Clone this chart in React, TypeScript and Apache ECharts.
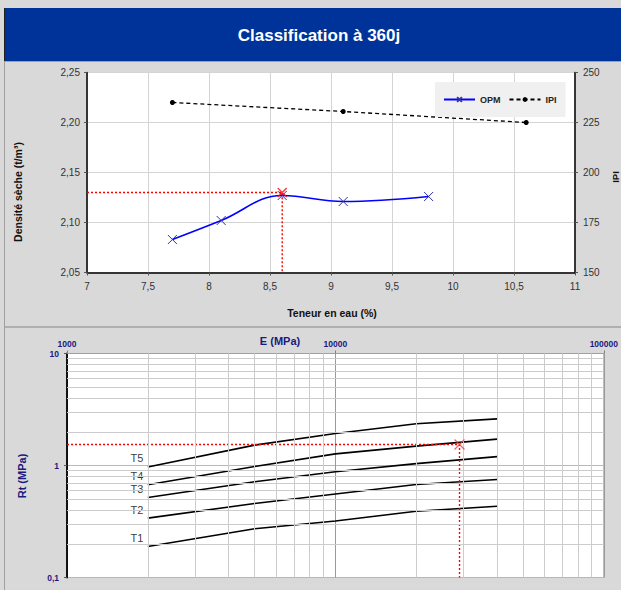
import React, { useEffect, useRef } from "react";
import * as echarts from "echarts";

const TITLE = "Classification à 360j";

// ---- Top chart data ----
const waterTicksMin = 7;
const waterTicksMax = 11;
const opmWater = [7.7, 8.1, 8.6, 9.1, 9.8];
const opmDensity = [2.083, 2.102, 2.127, 2.121, 2.126];
const ipiWater = [7.7, 9.1, 10.6];
const ipiValues = [235, 230.5, 225];
const refWater = 8.6;
const refDensity = 2.13;

// ---- Bottom chart data ----
const modulusE = [2000, 5000, 10000, 20000, 40000];
const classNames = ["T1", "T2", "T3", "T4", "T5"];
const t1 = [0.189, 0.272, 0.32, 0.39, 0.433];
const t2 = [0.339, 0.458, 0.556, 0.676, 0.75];
const t3 = [0.518, 0.715, 0.88, 1.04, 1.2];
const t4 = [0.673, 0.98, 1.27, 1.49, 1.72];
const t5 = [0.97, 1.52, 1.93, 2.36, 2.61];
const classValues = [t1, t2, t3, t4, t5];
const refE = 29000;
const refRt = 1.54;
const minorE = [2000, 3000, 4000, 5000, 6000, 7000, 8000, 9000, 20000, 30000, 40000, 50000, 60000, 70000, 80000, 90000];
const minorRt = [0.2, 0.3, 0.4, 0.5, 0.6, 0.7, 0.8, 0.9, 2, 3, 4, 5, 6, 7, 8, 9];

const FONT = "Liberation Sans, Arial, sans-serif";
const NAVY = "#1a1a80";
const XSYM = "path://M0,0L10,10M10,0L0,10";

const comma = (v: number, d?: number) =>
  (d === undefined ? String(v) : v.toFixed(d)).replace(".", ",");

function buildOption(): any {
  const series: any[] = [];

  // Top chart
  series.push({
    name: "OPM",
    type: "line",
    xAxisIndex: 0,
    yAxisIndex: 0,
    smooth: 0.4,
    data: opmWater.map((w, i) => [w, opmDensity[i]]),
    symbol: XSYM,
    symbolSize: 9,
    lineStyle: { color: "#0000ff", width: 1.6 },
    itemStyle: { color: "#3333a0", borderColor: "#3333a0", borderWidth: 1 },
    z: 3,
  });
  series.push({
    name: "IPI",
    type: "line",
    xAxisIndex: 0,
    yAxisIndex: 1,
    data: ipiWater.map((w, i) => [w, ipiValues[i]]),
    symbol: "circle",
    symbolSize: 5,
    lineStyle: { color: "#000", width: 1.3, type: [4, 3] },
    itemStyle: { color: "#000" },
    z: 3,
  });
  series.push({
    name: "refTop",
    type: "line",
    xAxisIndex: 0,
    yAxisIndex: 0,
    data: [
      [waterTicksMin, refDensity],
      [refWater, refDensity],
      [refWater, 2.05],
    ],
    symbol: "none",
    lineStyle: { color: "#ff0000", width: 1.4, type: [2, 2] },
    z: 2,
  });
  series.push({
    name: "refTopMark",
    type: "scatter",
    xAxisIndex: 0,
    yAxisIndex: 0,
    data: [[refWater, refDensity]],
    symbol: XSYM,
    symbolSize: 9,
    itemStyle: { color: "#ff0000", borderColor: "#ff0000", borderWidth: 1.3 },
    z: 4,
  });

  // Bottom chart minor grid
  series.push({
    name: "minorGrid",
    type: "line",
    xAxisIndex: 1,
    yAxisIndex: 2,
    data: [[1000, 0.1]],
    symbol: "none",
    lineStyle: { width: 0 },
    z: 1,
    markLine: {
      silent: true,
      symbol: ["none", "none"],
      label: { show: false },
      lineStyle: { color: "#cccccc", type: "solid", width: 1 },
      data: [
        ...minorE.map((v) => ({ xAxis: v })),
        ...minorRt.map((v) => ({ yAxis: v })),
      ],
    },
  });

  classNames.forEach((n, i) => {
    series.push({
      name: n,
      type: "line",
      xAxisIndex: 1,
      yAxisIndex: 2,
      data: modulusE.map((e, j) => [e, classValues[i][j]]),
      symbol: "none",
      lineStyle: { color: "#000", width: 1.6 },
      z: 3,
    });
  });

  series.push({
    name: "classLabels",
    type: "scatter",
    xAxisIndex: 1,
    yAxisIndex: 2,
    data: classNames.map((n, i) => [modulusE[0], classValues[i][0], n]),
    symbolSize: 1,
    itemStyle: { color: "rgba(0,0,0,0)" },
    label: {
      show: true,
      position: "left",
      distance: 4,
      offset: [0, -8.5],
      formatter: (p: any) => p.value[2],
      fontSize: 11,
      color: "#000",
      fontFamily: FONT,
    },
    z: 4,
  });

  series.push({
    name: "refBottom",
    type: "line",
    xAxisIndex: 1,
    yAxisIndex: 2,
    data: [
      [1000, refRt],
      [refE, refRt],
      [refE, 0.1],
    ],
    symbol: "none",
    lineStyle: { color: "#ff0000", width: 1.4, type: [2, 2] },
    z: 4,
  });
  series.push({
    name: "refBottomMark",
    type: "scatter",
    xAxisIndex: 1,
    yAxisIndex: 2,
    data: [[refE, refRt]],
    symbol: XSYM,
    symbolSize: 10,
    itemStyle: { color: "#ff3333", borderColor: "#ff3333", borderWidth: 1.2 },
    z: 5,
  });

  const tickLabel = { color: "#333", fontSize: 10, fontFamily: FONT };

  return {
    animation: false,
    backgroundColor: "#d9d9d9",
    textStyle: { fontFamily: FONT },
    grid: [
      {
        left: 87,
        top: 72.5,
        width: 488,
        height: 200,
        show: true,
        backgroundColor: "#ffffff",
        borderColor: "#c0c0c0",
        borderWidth: 1,
      },
      {
        left: 67,
        top: 353.5,
        width: 540,
        height: 224,
        show: true,
        backgroundColor: "#ffffff",
        borderColor: "#a0a0a0",
        borderWidth: 1,
      },
    ],
    legend: {
      data: ["OPM", "IPI"],
      left: 435,
      top: 82,
      backgroundColor: "#f0f0f0",
      padding: [13, 9, 13, 8],
      itemWidth: 31,
      itemHeight: 6,
      itemGap: 8,
      textStyle: { fontSize: 9, fontWeight: "bold", color: "#222", fontFamily: FONT },
    },
    xAxis: [
      {
        type: "value",
        gridIndex: 0,
        min: waterTicksMin,
        max: waterTicksMax,
        interval: 0.5,
        axisLine: { show: true, lineStyle: { color: "#000", width: 1.5 } },
        axisTick: { show: true, length: 3, lineStyle: { color: "#555" } },
        axisLabel: { ...tickLabel, margin: 9, formatter: (v: number) => comma(v) },
        splitLine: { show: true, lineStyle: { color: "#d4d4d4", width: 1 } },
      },
      {
        type: "log",
        logBase: 10,
        gridIndex: 1,
        position: "top",
        min: 1000,
        max: 100000,
        axisLine: { show: true, onZero: false, lineStyle: { color: "#a0a0a0", width: 1 } },
        axisTick: { show: true, length: 3, lineStyle: { color: "#808080" } },
        axisLabel: {
          color: NAVY,
          fontSize: 8.5,
          fontWeight: "bold",
          fontFamily: FONT,
          margin: 5,
          formatter: (v: number) => String(Math.round(v)),
        },
        splitLine: { show: true, lineStyle: { color: "#999999", width: 1 } },
      },
    ],
    yAxis: [
      {
        type: "value",
        gridIndex: 0,
        min: 2.05,
        max: 2.25,
        interval: 0.05,
        axisLine: { show: true, lineStyle: { color: "#000", width: 1.5 } },
        axisTick: { show: true, length: 3, lineStyle: { color: "#555" } },
        axisLabel: { ...tickLabel, margin: 7, formatter: (v: number) => comma(v, 2) },
        splitLine: { show: true, lineStyle: { color: "#d4d4d4", width: 1 } },
      },
      {
        type: "value",
        gridIndex: 0,
        position: "right",
        min: 150,
        max: 250,
        interval: 25,
        axisLine: { show: true, lineStyle: { color: "#000", width: 1.5 } },
        axisTick: { show: true, length: 3, lineStyle: { color: "#555" } },
        axisLabel: { ...tickLabel, margin: 8 },
        splitLine: { show: false },
      },
      {
        type: "log",
        logBase: 10,
        gridIndex: 1,
        min: 0.1,
        max: 10,
        axisLine: { show: true, onZero: false, lineStyle: { color: "#000", width: 1.8 } },
        axisTick: { show: true, length: 3, lineStyle: { color: "#555" } },
        axisLabel: {
          color: NAVY,
          fontSize: 8.5,
          fontWeight: "bold",
          fontFamily: FONT,
          margin: 8,
          formatter: (v: number) => comma(Math.round(v * 10) / 10),
        },
        splitLine: { show: true, lineStyle: { color: "#b8b8b8", width: 1 } },
      },
    ],
    graphic: [
      {
        type: "rect",
        shape: { x: 4, y: 8, width: 620, height: 53 },
        style: { fill: "#003399" },
        z: 0,
      },
      {
        type: "line",
        shape: { x1: 4.5, y1: 8, x2: 4.5, y2: 61 },
        style: { stroke: "#202020", lineWidth: 1 },
      },
      {
        type: "text",
        x: 319,
        y: 35,
        style: {
          text: TITLE,
          fill: "#ffffff",
          font: `bold 17px ${FONT}`,
          textAlign: "center",
          textVerticalAlign: "middle",
        },
      },
      {
        type: "line",
        shape: { x1: 4, y1: 61.5, x2: 621, y2: 61.5 },
        style: { stroke: "#a0a0a0", lineWidth: 1 },
      },
      {
        type: "line",
        shape: { x1: 4, y1: 327, x2: 621, y2: 327 },
        style: { stroke: "#a0a0a0", lineWidth: 1.5 },
      },
      {
        type: "line",
        shape: { x1: 4.5, y1: 61, x2: 4.5, y2: 590 },
        style: { stroke: "#a0a0a0", lineWidth: 1 },
      },
      {
        type: "text",
        x: 18,
        y: 192,
        rotation: Math.PI / 2,
        style: {
          text: "Densité sèche (t/m³)",
          fill: "#111",
          font: `bold 10.5px ${FONT}`,
          textAlign: "center",
          textVerticalAlign: "middle",
        },
      },
      {
        type: "text",
        x: 615,
        y: 177,
        rotation: Math.PI / 2,
        style: {
          text: "IPI",
          fill: "#111",
          font: `bold 9.5px ${FONT}`,
          textAlign: "center",
          textVerticalAlign: "middle",
        },
      },
      {
        type: "text",
        x: 332,
        y: 313,
        style: {
          text: "Teneur en eau (%)",
          fill: "#111",
          font: `bold 10.5px ${FONT}`,
          textAlign: "center",
          textVerticalAlign: "middle",
        },
      },
      {
        type: "text",
        x: 280,
        y: 341,
        style: {
          text: "E (MPa)",
          fill: NAVY,
          font: `bold 11px ${FONT}`,
          textAlign: "center",
          textVerticalAlign: "middle",
        },
      },
      {
        type: "text",
        x: 22,
        y: 476,
        rotation: Math.PI / 2,
        style: {
          text: "Rt (MPa)",
          fill: NAVY,
          font: `bold 11px ${FONT}`,
          textAlign: "center",
          textVerticalAlign: "middle",
        },
      },
    ],
    series,
  };
}

export default function App() {
  const ref = useRef<HTMLDivElement>(null);
  useEffect(() => {
    if (!ref.current) return;
    const chart = echarts.init(ref.current, null, { renderer: "svg" });
    chart.setOption(buildOption());
    return () => chart.dispose();
  }, []);
  return (
    <div
      ref={ref}
      style={{ position: "fixed", left: 0, top: 0, width: 621, height: 590 }}
    />
  );
}
